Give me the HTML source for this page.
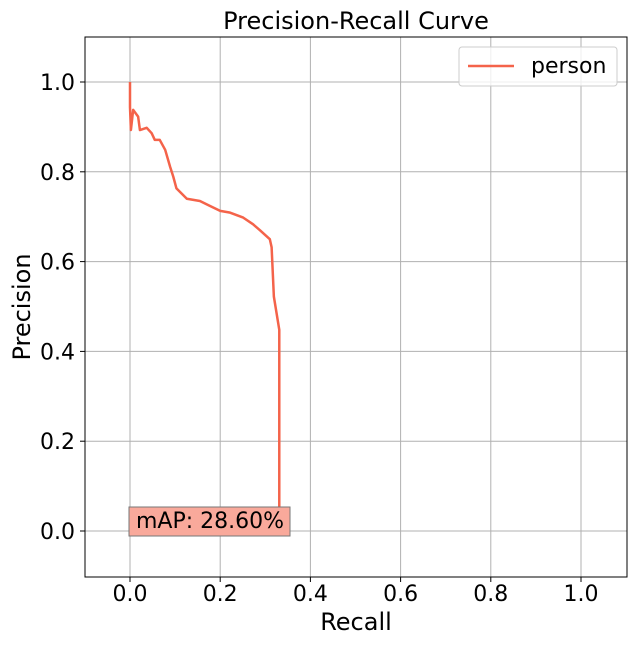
<!DOCTYPE html>
<html><head><meta charset="utf-8"><style>
body{margin:0;background:#fff}
svg text{font-family:"DejaVu Sans","Liberation Sans",sans-serif;fill:#000}
</style></head><body>
<svg width="637" height="645" xmlns="http://www.w3.org/2000/svg">
<rect width="637" height="645" fill="#fff"/>
<g id="grid"></g>
<g id="ticks"></g>
<path id="curve" fill="none" stroke="#f4634a" stroke-width="2.5" stroke-linejoin="round"/>
<rect x="85" y="37" width="542" height="540" fill="none" stroke="#000" stroke-width="1"/>
<text x="356" y="29" font-size="24" text-anchor="middle">Precision-Recall Curve</text>
<text x="356" y="630" font-size="24" text-anchor="middle">Recall</text>
<text transform="translate(30,307) rotate(-90)" font-size="24" text-anchor="middle">Precision</text>
<g>
<rect x="459" y="47" width="158" height="39" rx="3" fill="#fff" fill-opacity="0.8" stroke="#ccc"/>
<line x1="468" y1="66" x2="514" y2="66" stroke="#f4634a" stroke-width="2.5"/>
<text x="531" y="73" font-size="22">person</text>
</g>
<g>
<rect x="129" y="507" width="161" height="29" fill="#f9a99b" stroke="#777" stroke-width="1"/>
<text x="136" y="528" font-size="22">mAP: 28.60%</text>
</g>
</svg>
<script>
const recall=[0,0,0.002,0.007,0.018,0.022,0.037,0.048,0.055,0.066,0.078,0.089,0.096,0.103,0.126,0.155,0.177,0.2,0.222,0.251,0.273,0.288,0.31,0.314,0.319,0.331,0.331];
const precision=[1.0,0.944,0.893,0.938,0.923,0.893,0.898,0.886,0.871,0.871,0.849,0.811,0.789,0.763,0.74,0.735,0.724,0.713,0.709,0.698,0.683,0.67,0.65,0.632,0.522,0.448,0.05];
const xTicks=[0,0.2,0.4,0.6,0.8,1.0];
const yTicks=[0,0.2,0.4,0.6,0.8,1.0];
const X=v=>130+v*451, Y=v=>531-v*449;
const NS="http://www.w3.org/2000/svg";
const grid=document.getElementById('grid'), ticks=document.getElementById('ticks');
xTicks.forEach(t=>{
 const l=document.createElementNS(NS,'line');
 
 
 l.setAttribute('x1',X(t));l.setAttribute('x2',X(t));l.setAttribute('y1',37);l.setAttribute('y2',577);
 l.setAttribute('stroke','#b0b0b0');grid.appendChild(l);
 const k=document.createElementNS(NS,'line');
 
 
 k.setAttribute('x1',X(t));k.setAttribute('x2',X(t));k.setAttribute('y1',577);k.setAttribute('y2',582);k.setAttribute('stroke','#000');ticks.appendChild(k);
 const s=document.createElementNS(NS,'text');
 
 
 s.setAttribute('x',X(t));s.setAttribute('y',601);s.setAttribute('font-size','22');s.setAttribute('text-anchor','middle');
 s.textContent=t.toFixed(1);ticks.appendChild(s);
});
yTicks.forEach(t=>{
 const l=document.createElementNS(NS,'line');
 
 
 l.setAttribute('y1',Y(t));l.setAttribute('y2',Y(t));l.setAttribute('x1',85);l.setAttribute('x2',627);
 l.setAttribute('stroke','#b0b0b0');grid.appendChild(l);
 const k=document.createElementNS(NS,'line');
 
 
 k.setAttribute('y1',Y(t));k.setAttribute('y2',Y(t));k.setAttribute('x1',80);k.setAttribute('x2',85);k.setAttribute('stroke','#000');ticks.appendChild(k);
 const s=document.createElementNS(NS,'text');
 
 
 s.setAttribute('x',75);s.setAttribute('y',Y(t)+8);s.setAttribute('font-size','22');s.setAttribute('text-anchor','end');
 s.textContent=t.toFixed(1);ticks.appendChild(s);
});
document.getElementById('curve').setAttribute('d',recall.map((r,i)=>(i?'L':'M')+X(r)+','+Y(precision[i])).join(''));
</script>
</body></html>
